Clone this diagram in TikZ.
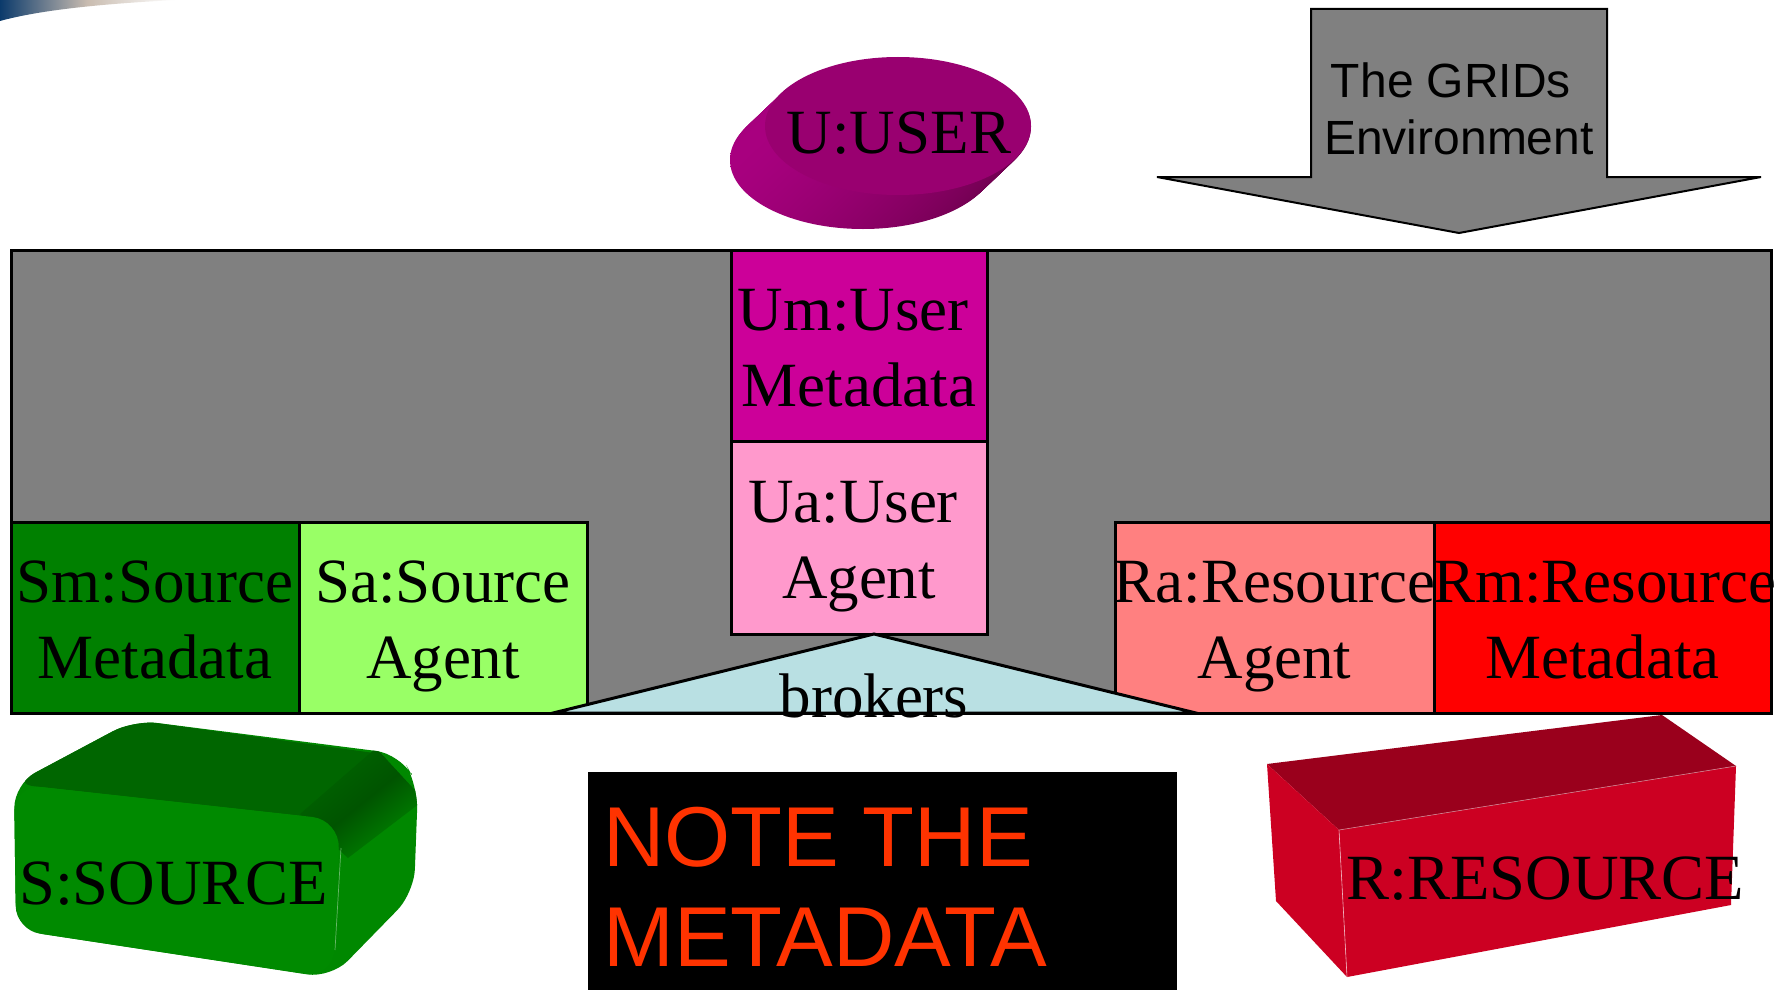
\documentclass[tikz,border=0pt]{standalone}
\usepackage{fontspec}
\setmainfont{Liberation Serif}
\newfontfamily\sansf{Liberation Sans}
\usetikzlibrary{shapes.geometric}
\definecolor{gridgray}{HTML}{808080}
\definecolor{umcol}{HTML}{CC0099}
\definecolor{uacol}{HTML}{FF99CC}
\definecolor{smcol}{HTML}{008000}
\definecolor{sacol}{HTML}{99FF66}
\definecolor{racol}{HTML}{FF8080}
\definecolor{rmcol}{HTML}{FF0000}
\definecolor{brokcol}{HTML}{B9E0E3}
\definecolor{usertop}{HTML}{990070}
\definecolor{userlight}{HTML}{A8007F}
\definecolor{userdark}{HTML}{6E004E}
\definecolor{srcfront}{HTML}{008A00}
\definecolor{srctop}{HTML}{006600}
\definecolor{srcside}{HTML}{008800}
\definecolor{srcdark}{HTML}{005400}
\definecolor{resfront}{HTML}{CC0022}
\definecolor{restop}{HTML}{9A001C}
\definecolor{notered}{HTML}{FF3300}
\definecolor{navyband}{HTML}{0B3A6B}
\definecolor{swooshcol}{HTML}{C9BCB0}
\begin{document}
\begin{tikzpicture}[x=1pt,y=-1pt,
  box/.style={draw=black, line width=3pt, inner sep=0pt},
  lbl/.style={inner sep=0pt, anchor=base, font=\fontsize{63}{76}\selectfont},
  biglbl/.style={inner sep=0pt, anchor=base west, font=\fontsize{64.5}{76}\selectfont},
  sanslbl/.style={inner sep=0pt, anchor=base, font=\sansf\fontsize{48}{57}\selectfont},
  notelbl/.style={inner sep=0pt, anchor=base west, text=notered, font=\sansf\fontsize{85}{100}\selectfont}]
\useasboundingbox (0,0) rectangle (1787,990);
\fill[white] (0,0) rectangle (1787,990);

% top-left slide decoration
\shade[left color=navyband, right color=white, middle color=swooshcol]
  (0,0) -- (175,0) .. controls (100,4) and (40,10) .. (0,21) -- cycle;

% U:USER disk
\foreach \k in {0,1,...,35} {
  \shade[left color=userlight, right color=userdark] ({863+\k},{160-\k*0.95}) ellipse [x radius=133, y radius=69];
}
\node[ellipse, fill=usertop, minimum width=266pt, minimum height=138pt, inner sep=0pt] (userdisk) at (898,126) {};
\node[lbl] (usertext) at (899,153) {U:USER};

% GRIDs environment arrow
\draw[fill=gridgray, line width=2pt] (1311,9) -- (1607,9) -- (1607,177) -- (1761,177)
   -- (1459,233) -- (1157,177) -- (1311,177) -- cycle;
\node[sanslbl] (grids1) at (1451,97) {The GRIDs};
\node[sanslbl] (grids2) at (1459,154) {Environment};

% grid environment
\node[box, fill=gridgray, minimum width=1760pt, minimum height=463pt] (grid) at (891,481.5) {};

\node[box, fill=umcol, minimum width=256pt, minimum height=191pt] (um) at (859,345.5) {};
\node[box, fill=uacol, minimum width=256pt, minimum height=193pt] (ua) at (859,537.5) {};
\node[box, fill=smcol, minimum width=288pt, minimum height=191pt] (sm) at (155,617.5) {};
\node[box, fill=sacol, minimum width=288pt, minimum height=191pt] (sa) at (443,617.5) {};
\node[box, fill=racol, minimum width=319pt, minimum height=191pt] (ra) at (1274.5,617.5) {};
\node[box, fill=rmcol, minimum width=337pt, minimum height=191pt] (rm) at (1602.5,617.5) {};

\node[lbl] (um1) at ([xshift=-6pt,yshift=15pt]um.center) {Um:User};
\node[lbl] (um2) at ([yshift=-61pt]um.center) {Metadata};
\node[lbl] (ua1) at ([xshift=-6pt,yshift=15pt]ua.center) {Ua:User};
\node[lbl] (ua2) at ([yshift=-61pt]ua.center) {Agent};
\node[lbl] (sm1) at ([yshift=15pt]sm.center) {Sm:Source};
\node[lbl] (sm2) at ([yshift=-61pt]sm.center) {Metadata};
\node[lbl] (sa1) at ([yshift=15pt]sa.center) {Sa:Source};
\node[lbl] (sa2) at ([yshift=-61pt]sa.center) {Agent};
\node[lbl] (ra1) at ([yshift=15pt]ra.center) {Ra:Resource};
\node[lbl] (ra2) at ([yshift=-61pt]ra.center) {Agent};
\node[lbl] (rm1) at ([xshift=2pt,yshift=15pt]rm.center) {Rm:Resource};
\node[lbl] (rm2) at ([yshift=-61pt]rm.center) {Metadata};

% brokers triangle
\coordinate (apex) at (874,634);
\coordinate (bl) at (553,713);
\coordinate (br) at (1196,713);
\draw[fill=brokcol, line width=3pt] (apex) -- (bl) -- (br) -- cycle;
\node[lbl] (brokers) at (874,717) {brokers};

% S:SOURCE rounded box
\begin{scope}
  \clip[rounded corners=24pt] (14,784) -- (134,720) -- (400,754) -- (418,786)
     -- (414,893) -- (331,978) -- (16,930) -- cycle;
  \fill[srcside] (0,700) rectangle (440,990);
  \fill[srctop, rounded corners=20pt] (14,784) -- (134,720) -- (396,756) -- (338,820) -- cycle;
  \shade[top color=srctop, bottom color=srcside, middle color=srcdark, shading angle=39]
     (300,814) -- (376,748) -- (424,800) -- (348,858) -- cycle;
\end{scope}
\fill[srcfront, rounded corners=28pt] (14,784) -- (340,820) -- (333,978) -- (16,930) -- cycle;
\draw[srcside!60!white, line width=0.7pt] (341,848) -- (335,950);
\node[biglbl] (source) at (19,904) {S:SOURCE};

% R:RESOURCE box
\fill[restop] (1267,764) -- (1662,715) -- (1736,766) -- (1339,830) -- cycle;
\fill[resfront] (1339,830) -- (1736,766) -- (1731,905) -- (1347,977) -- cycle;
\fill[resfront] (1267,764) -- (1339,830) -- (1347,977) -- (1276,901) -- cycle;
\draw[white!70!resfront, line width=0.6pt] (1339,830) -- (1347,977);
\draw[white!50!restop, line width=0.6pt] (1339,830) -- (1736,766);
\node[biglbl] (resource) at (1346,899) {R:RESOURCE};

% note box
\node[fill=black, minimum width=589pt, minimum height=218pt, inner sep=0pt] (notebox) at (882.5,881) {};
\node[notelbl] (note1) at (603,866) {NOTE THE};
\node[notelbl] (note2) at (603,966) {METADATA};
\end{tikzpicture}
\end{document}
